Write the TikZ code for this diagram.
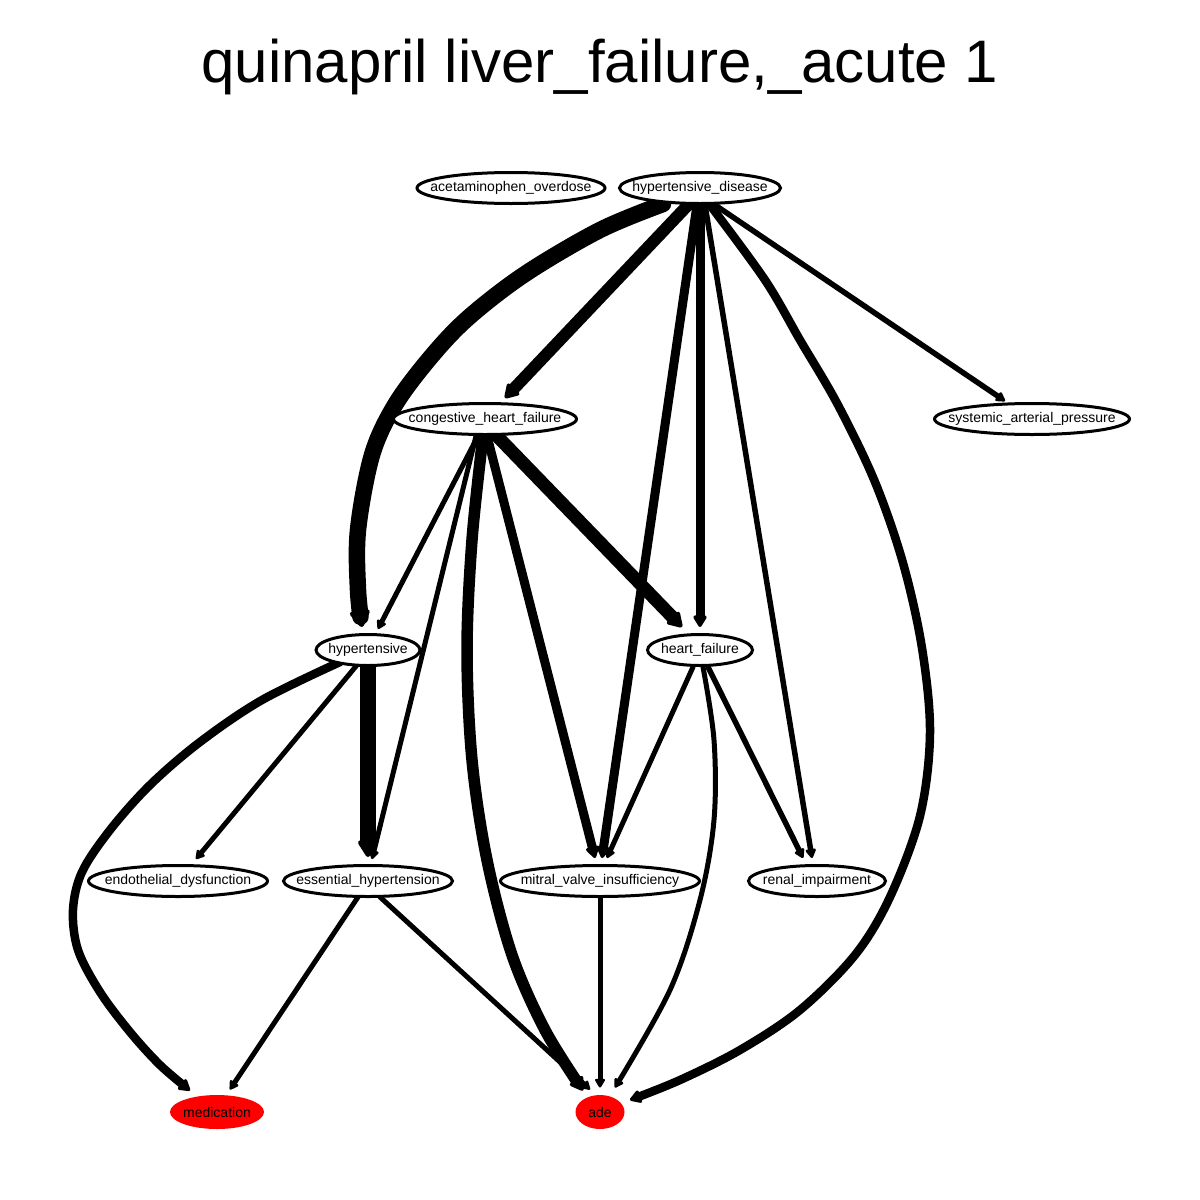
\documentclass[tikz,border=0pt]{standalone}
\usepackage{fontspec}
\setmainfont{Liberation Sans}
\usetikzlibrary{arrows.meta,shapes.geometric}
\pgfdeclarelayer{bg}
\pgfsetlayers{bg,main}
\newcommand{\zb}[1]{\makebox[0pt]{#1}}
\begin{document}
\begin{tikzpicture}[x=1pt,y=-1pt,
  nd/.style={ellipse,draw=black,line width=3pt,fill=white,inner sep=0pt,minimum height=31pt,font=\fontsize{14}{16}\selectfont},
  red/.style={nd,draw=none,fill=red},
  ed/.style={draw=black,line cap=round,line join=round,-{Triangle[length=6pt 0.8 0,width=6pt 1 0,round]}},
  sm/.style={smooth,tension=0.55}]
\useasboundingbox (0,0) rectangle (1200,1200);
\node[anchor=base,font=\fontsize{60}{70}\selectfont] (title) at (600,82) {quinapril liver\_failure,\_acute 1};
\node[nd,minimum width=188pt] (ao) at (511,188) {\zb{acetaminophen\_overdose}};
\node[nd,minimum width=161pt] (hd) at (700,188) {\zb{hypertensive\_disease}};
\node[nd,minimum width=183pt] (chf) at (485,419) {\zb{congestive\_heart\_failure}};
\node[nd,minimum width=195pt] (sap) at (1032,419) {\zb{systemic\_arterial\_pressure}};
\node[nd,minimum width=104pt] (hyp) at (368,650) {\zb{hypertensive}};
\node[nd,minimum width=105pt] (hf) at (700,650) {\zb{heart\_failure}};
\node[nd,minimum width=179pt] (edf) at (178,881) {\zb{endothelial\_dysfunction}};
\node[nd,minimum width=169pt] (eh) at (368,881) {\zb{essential\_hypertension}};
\node[nd,minimum width=199pt] (mvi) at (600,881) {\zb{mitral\_valve\_insufficiency}};
\node[nd,minimum width=137pt] (ri) at (817,881) {\zb{renal\_impairment}};
\node[red,minimum width=94pt,minimum height=34pt] (med) at (217,1112) {\zb{medication}};
\node[red,minimum width=49pt,minimum height=34pt] (ade) at (600,1112) {\zb{ade}};
\begin{pgfonlayer}{bg}
% hypertensive_disease
\draw[ed,line width=16.5pt] plot[sm] coordinates {([shift={(-37,-1)}]hd.south) (600,230) (525,274) (468,318) (430,358) (395,405) (372,455) (358,530) (358,590) ([shift={(-6,-6)}]hyp.north)};
\draw[ed,line width=12pt] ([shift={(-12,0)}]hd.south) -- ([shift={(20,-4)}]chf.north);
\draw[ed,line width=9pt] ([shift={(-3,0)}]hd.south) -- ([shift={(2,-6)}]mvi.north);
\draw[ed,line width=9pt] (hd.south) -- ([shift={(0,-6)}]hf.north);
\draw[ed,line width=5.5pt] ([shift={(5,0)}]hd.south) -- ([shift={(-5,-6)}]ri.north);
\draw[ed,line width=8.5pt] plot[sm] coordinates {([shift={(10,0)}]hd.south) (765,280) (800,340) (838,405) (875,482) (903,563) (922,648) (930,733) (920,816) (890,897) (855,955) (800,1010) (740,1050) (680,1080) ([shift={(30,-12)}]ade.center)};
\draw[ed,line width=5.5pt] ([shift={(15,0)}]hd.south) -- ([shift={(-27,-1)}]sap.north);
% congestive_heart_failure
\draw[ed,line width=5pt] ([shift={(-7,0)}]chf.south) -- ([shift={(10,-4)}]hyp.north);
\draw[ed,line width=5pt] ([shift={(-9,0)}]chf.south) -- ([shift={(4,-5)}]eh.north);
\draw[ed,line width=11.5pt] plot[sm] coordinates {([shift={(-2,0)}]chf.south) (472,540) (467,650) (472,760) (487,860) (512,955) (545,1030) ([shift={(-17,-3)}]ade.north)};
\draw[ed,line width=9pt] ([shift={(2,0)}]chf.south) -- ([shift={(-5,-6)}]mvi.north);
\draw[ed,line width=13pt] ([shift={(12,0)}]chf.south) -- ([shift={(-18,-6)}]hf.north);
% hypertensive
\draw[ed,line width=8.5pt] plot[sm] coordinates {([shift={(-28,12)}]hyp.center) (262,700) (200,742) (150,785) (110,830) (82,872) (73,910) (78,950) (100,992) (130,1032) (160,1065) ([shift={(-27,-3)}]med.north)};
\draw[ed,line width=5pt] ([shift={(-11,-2)}]hyp.south) -- ([shift={(18,-5)}]edf.north);
\draw[ed,line width=16.5pt] (hyp.south) -- ([shift={(0,-7)}]eh.north);
% heart_failure
\draw[ed,line width=5pt] ([shift={(-7,0)}]hf.south) -- ([shift={(7,-6)}]mvi.north);
\draw[ed,line width=5pt] plot[sm] coordinates {([shift={(3,0)}]hf.south) (714,740) (714,820) (700,900) (670,990) ([shift={(15,-6)}]ade.north)};
\draw[ed,line width=5.5pt] ([shift={(8,0)}]hf.south) -- ([shift={(-14,-6)}]ri.north);
% essential_hypertension
\draw[ed,line width=5pt] ([shift={(-10,-1)}]eh.south) -- ([shift={(13,-4)}]med.north);
\draw[ed,line width=5pt] ([shift={(12,-1)}]eh.south) -- ([shift={(-10,-4)}]ade.north);
% mitral
\draw[ed,line width=5pt] (mvi.south) -- ([shift={(0,-6)}]ade.north);
\end{pgfonlayer}
\end{tikzpicture}
\end{document}
